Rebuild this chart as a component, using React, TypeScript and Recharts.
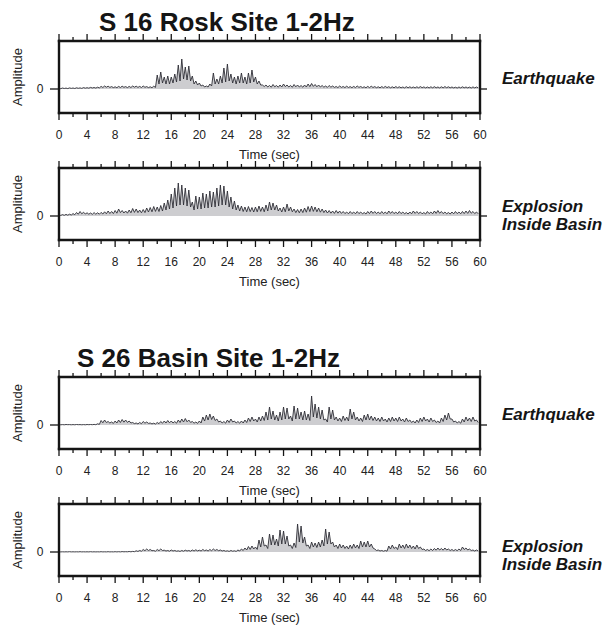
import React from 'react';
import { ComposedChart, Area, Line, XAxis, YAxis } from 'recharts';

// Seismogram envelopes, 1-2 Hz band, sampled every 0.5 s.
// "peaks" are the crest samples (t = 0, 0.5, ...), "troughs" the samples
// a quarter second later (t = 0.25, 0.75, ...). Amplitude in relative units.
const SAMPLE_STEP = 0.5;

const s16QuakePeaks = [
  0.8, 1.0, 0.9, 1.1, 1.0, 1.2, 1.1, 1.4, 1.3, 1.6, 1.5, 1.8,
  2.6, 3.0, 2.8, 2.4, 2.2, 2.6, 2.8, 2.4, 2.6, 3.0, 2.8, 2.6, 3.0, 2.4, 2.2, 2.8,
  14, 17, 12, 13, 12, 15, 24, 30, 22, 23, 13, 8, 6, 4, 3, 5, 16, 10, 13, 21, 25, 15, 12, 13, 16, 12, 16, 19, 12, 8, 4,
  4, 3.5, 4.5, 3.5, 4, 5, 4, 3.5, 4.5, 4, 3.5, 4, 5, 5.5, 4.5, 4, 3.5, 3, 3.5,
  3, 2.5, 3, 2.5, 2.8, 2.4, 2.6, 3, 2.5, 2.2, 2.6, 2.8, 2.4, 2.2, 2.4, 2.6, 2.3, 2.2, 2.4, 2.2,
  2.0, 2.3, 2.2, 2.0, 2.2, 2.4, 2.1, 2.0, 2.2, 2.3, 2.0, 2.2, 2.4, 2.2, 2.0, 1.8, 2.0, 2.2, 2.0, 1.9,
  2.1, 2.0,
];
const s16QuakeTroughs = [
  0.3, 0.5, 0.4, 0.6, 0.5, 0.7, 0.6, 0.8, 0.8, 1.0, 0.9, 1.1,
  1.5, 1.8, 1.6, 1.4, 1.3, 1.5, 1.7, 1.4, 1.5, 1.8, 1.6, 1.5, 1.7, 1.4, 1.3, 1.6,
  5, 6, 5, 5, 6, 7, 8, 10, 9, 8, 5, 4, 3, 2, 2, 3, 5, 5, 6, 7, 8, 6, 5, 6, 6, 5, 6, 7, 5, 4, 2.5,
  2, 1.8, 2.2, 1.8, 2, 2.4, 2, 1.8, 2.2, 2, 1.8, 2, 2.4, 2.6, 2.2, 2, 1.8, 1.6, 1.8,
  1.6, 1.4, 1.6, 1.4, 1.5, 1.3, 1.4, 1.6, 1.4, 1.2, 1.4, 1.5, 1.3, 1.2, 1.3, 1.4, 1.2, 1.2, 1.3, 1.2,
  1.1, 1.2, 1.2, 1.1, 1.2, 1.3, 1.1, 1.1, 1.2, 1.2, 1.1, 1.2, 1.3, 1.2, 1.1, 1.0, 1.1, 1.2, 1.1, 1.0,
  1.1, 1.1,
];

const s16BlastPeaks = [
  1.2, 1.4, 1.6, 1.8, 2.4, 3.5, 4.5, 3.8, 3.2, 3.0, 3.4, 3.2,
  3.6, 4.2, 5.0, 4.5, 5.5, 7.0, 5.5, 5.0, 6.0, 7.5, 7.0, 6.0,
  6.5, 8.0, 8.5, 9.5, 9.0, 10.5, 13, 16, 22, 28, 33, 31,
  28, 26, 14, 20, 19, 23, 22, 25, 24, 28, 31, 30,
  25, 19, 15, 11, 10, 9, 9.5, 8.5, 9, 10, 9, 11,
  14, 13, 11, 8, 9, 12, 9, 7, 6.5, 7, 8, 9.5,
  10, 9, 8, 7, 6, 5.5, 5, 5.5, 5, 4.5, 4, 4.5,
  4, 4.5, 4, 3.5, 4.5, 5, 4.5, 4, 4.5, 4, 5, 4.5,
  4, 4.5, 4, 3.5, 4, 5, 4.5, 4, 3.5, 4.5, 4, 5,
  5.5, 4.5, 4, 3.5, 4, 4.5, 4, 4.5, 5, 5.5, 4.5, 4,
];
const s16BlastTroughs = [
  0.6, 0.7, 0.8, 1.0, 1.3, 1.8, 2.2, 2.0, 1.8, 1.7, 1.8, 1.8,
  2.0, 2.2, 2.5, 2.4, 2.8, 3.4, 3.0, 2.8, 3.2, 3.6, 3.4, 3.2,
  3.4, 4.0, 4.2, 4.6, 4.5, 5.0, 6, 7, 8, 10, 11, 11,
  10, 9, 6, 7, 7, 8, 8, 9, 9, 10, 11, 11,
  9, 7, 6, 5, 4.5, 4.2, 4.4, 4.0, 4.2, 4.6, 4.2, 5,
  6, 6, 5, 4, 4.2, 5, 4.2, 3.4, 3.2, 3.4, 3.8, 4.4,
  4.6, 4.2, 3.8, 3.4, 3, 2.8, 2.6, 2.8, 2.6, 2.4, 2.2, 2.4,
  2.2, 2.4, 2.2, 2, 2.4, 2.6, 2.4, 2.2, 2.4, 2.2, 2.6, 2.4,
  2.2, 2.4, 2.2, 2, 2.2, 2.6, 2.4, 2.2, 2, 2.4, 2.2, 2.6,
  2.8, 2.4, 2.2, 2, 2.2, 2.4, 2.2, 2.4, 2.6, 2.8, 2.4, 2.2,
];

const s26QuakePeaks = [
  0.4, 0.4, 0.5, 0.4, 0.4, 0.5, 0.4, 0.4, 0.5, 0.5, 0.6, 1.2,
  4.5, 5, 3.5, 3, 4, 5, 5.5, 5, 4, 2.5, 2, 2.5,
  3.5, 3, 2, 1.8, 2.5, 3.5, 4, 4.5, 4, 3.5, 5, 6,
  6.5, 5, 3.5, 3, 4, 8, 10, 11, 9, 6, 4, 3.5,
  5, 6, 4, 3.5, 4, 5, 7, 8, 6, 8, 9, 13,
  18, 14, 10, 13, 18, 17, 9, 19, 17, 13, 14, 11,
  29, 21, 18, 15, 6, 18, 15, 8, 7, 9, 8, 16,
  13, 8, 7, 10, 11, 9, 8, 7, 8, 6, 7, 8,
  7, 8, 6, 7, 5, 4, 5, 7, 8, 6, 7, 5,
  4, 7, 10, 12, 6, 4, 3.5, 6, 8, 7, 8, 5,
];
const s26QuakeTroughs = [
  0.2, 0.2, 0.3, 0.2, 0.2, 0.3, 0.2, 0.2, 0.3, 0.3, 0.3, 0.6,
  2.2, 2.5, 2, 1.6, 2, 2.5, 2.8, 2.6, 2, 1.4, 1.1, 1.3,
  1.8, 1.6, 1.1, 1, 1.3, 1.8, 2, 2.2, 2, 1.8, 2.5, 3,
  3.2, 2.6, 1.8, 1.6, 2, 4, 5, 5.5, 4.5, 3, 2, 1.8,
  2.5, 3, 2, 1.8, 2, 2.5, 3.5, 4, 3, 4, 4.5, 5,
  6, 5, 4, 5, 6, 6, 4, 6, 6, 5, 5, 4.5,
  8, 7, 6, 5, 3, 6, 5, 4, 3.5, 4.5, 4, 6,
  5, 4, 3.5, 5, 5, 4.5, 4, 3.5, 4, 3, 3.5, 4,
  3.5, 4, 3, 3.5, 2.5, 2, 2.5, 3.5, 4, 3, 3.5, 2.5,
  2, 3.5, 5, 6, 3, 2, 1.8, 3, 4, 3.5, 4, 2.5,
];

const s26BlastPeaks = [
  0.2, 0.2, 0.2, 0.3, 0.2, 0.2, 0.3, 0.2, 0.2, 0.3, 0.2, 0.2,
  0.3, 0.2, 0.3, 0.2, 0.3, 0.3, 0.4, 0.3, 0.5, 0.6, 1.2, 1.5,
  2.5, 3, 2.5, 1.5, 2.5, 3, 1.8, 1.5, 2, 1.5, 1.2, 1.5,
  1.8, 1.5, 2, 2.2, 1.8, 2.5, 2, 2.5, 3, 2.5, 2, 1.5,
  1.2, 1.5, 1.2, 2, 3, 4, 5.5, 6, 5, 12, 15, 7,
  18, 17, 13, 22, 21, 16, 7, 9, 28, 26, 15, 7,
  10, 9, 10, 12, 23, 20, 10, 7, 8, 7, 6, 7,
  8, 7, 11, 10, 11, 8, 3, 2, 1.5, 1.5, 6, 7,
  5, 8, 7, 8, 7, 6, 7, 5, 3, 2.5, 3, 3.5,
  4, 3.5, 4, 3, 2.5, 2.5, 3, 5, 4, 3, 2, 2,
];
const s26BlastTroughs = [
  0.1, 0.1, 0.1, 0.1, 0.1, 0.1, 0.1, 0.1, 0.1, 0.1, 0.1, 0.1,
  0.1, 0.1, 0.1, 0.1, 0.1, 0.1, 0.2, 0.2, 0.2, 0.3, 0.6, 0.8,
  1.3, 1.5, 1.3, 0.8, 1.3, 1.5, 1, 0.8, 1, 0.8, 0.6, 0.8,
  1, 0.8, 1, 1.1, 1, 1.3, 1, 1.3, 1.5, 1.3, 1, 0.8,
  0.6, 0.8, 0.6, 1, 1.5, 2, 2.6, 3, 2.6, 5, 6, 3.5,
  7, 7, 6, 8, 8, 6, 3.5, 4.5, 10, 9, 6, 3.5,
  5, 4.5, 5, 6, 8, 8, 5, 3.5, 4, 3.5, 3, 3.5,
  4, 3.5, 5, 5, 5, 4, 1.5, 1, 0.8, 0.8, 3, 3.5,
  2.5, 4, 3.5, 4, 3.5, 3, 3.5, 2.5, 1.5, 1.3, 1.5, 1.8,
  2, 1.8, 2, 1.5, 1.3, 1.3, 1.5, 2.5, 2, 1.5, 1, 1,
];

// Time axis (seconds)
const TIME_DOMAIN = [0, 60];
const MAJOR_TICKS = [0, 4, 8, 12, 16, 20, 24, 28, 32, 36, 40, 44, 48, 52, 56, 60];
const MINOR_TICKS = [2, 6, 10, 14, 18, 22, 26, 30, 34, 38, 42, 46, 50, 54, 58];
const AMP_DOMAIN = [-24, 48];
const AMP_TICKS = [0];

const TITLES = ['S 16 Rosk Site 1-2Hz', 'S 26 Basin Site 1-2Hz'];
const TIME_LABEL = 'Time (sec)';
const AMP_LABEL = 'Amplitude';

const FONT = '"Liberation Sans", Arial, Helvetica, sans-serif';
const INK = '#151515';
const TRACE = '#2e2e36';

function buildTrace(peaks: number[], troughs: number[]) {
  const rows: { t: number; a: number }[] = [];
  peaks.forEach((p, i) => {
    rows.push({ t: i * SAMPLE_STEP, a: p });
    rows.push({ t: i * SAMPLE_STEP + SAMPLE_STEP / 2, a: troughs[i] });
  });
  return rows;
}

const PLOT_LEFT = 59;
const PLOT_W = 421;
const PLOT_H = 72;
const M_TOP = 12;
const M_BOTTOM = 34;
const CHART_W = 606;
const AXIS_SIZE = 1;

const panels = [
  { top: 41, data: buildTrace(s16QuakePeaks, s16QuakeTroughs), label: ['Earthquake'], labelY: [83.5] },
  { top: 168, data: buildTrace(s16BlastPeaks, s16BlastTroughs), label: ['Explosion', 'Inside Basin'], labelY: [211.5, 230] },
  { top: 377, data: buildTrace(s26QuakePeaks, s26QuakeTroughs), label: ['Earthquake'], labelY: [419.5] },
  { top: 504, data: buildTrace(s26BlastPeaks, s26BlastTroughs), label: ['Explosion', 'Inside Basin'], labelY: [551.5, 570] },
];

const frame = { stroke: INK, strokeWidth: 2.4, strokeLinecap: 'square' as const };

const BottomTick = (props: any) => {
  const { x, y, payload } = props;
  const major = MAJOR_TICKS.includes(payload.value);
  return (
    <g>
      <line x1={x} x2={x} y1={y} y2={y + (major ? 7 : 4)} stroke={INK} strokeWidth={1.3} />
      {major && (
        <text x={x} y={y + 26} textAnchor="middle" fontFamily={FONT} fontSize={12} fill="#222">
          {payload.value}
        </text>
      )}
    </g>
  );
};

const TopTick = (props: any) => {
  const { x, y, payload } = props;
  const major = MAJOR_TICKS.includes(payload.value);
  return <line x1={x} x2={x} y1={y} y2={y - (major ? 7 : 4)} stroke={INK} strokeWidth={1.3} />;
};

const LeftTick = (props: any) => {
  const { x, y, payload } = props;
  return (
    <g>
      <line x1={x} x2={x - 9} y1={y} y2={y} stroke={INK} strokeWidth={1.3} />
      <text x={x - 19} y={y + 4.3} textAnchor="middle" fontFamily={FONT} fontSize={12} fill="#222">
        {payload.value}
      </text>
    </g>
  );
};

const RightTick = (props: any) => {
  const { x, y } = props;
  return <line x1={x} x2={x + 7} y1={y} y2={y} stroke={INK} strokeWidth={1.3} />;
};

const allTicks = [...MAJOR_TICKS, ...MINOR_TICKS].sort((a, b) => a - b);

function Panel({ top, data }: { top: number; data: { t: number; a: number }[] }) {
  return (
    <div style={{ position: 'absolute', left: 0, top: top - M_TOP }}>
      <ComposedChart
        width={CHART_W}
        height={M_TOP + PLOT_H + M_BOTTOM}
        data={data}
        margin={{
          top: M_TOP - AXIS_SIZE,
          right: CHART_W - PLOT_LEFT - PLOT_W - AXIS_SIZE,
          bottom: M_BOTTOM - AXIS_SIZE,
          left: PLOT_LEFT - AXIS_SIZE,
        }}
      >
        <XAxis
          xAxisId="b"
          type="number"
          dataKey="t"
          domain={TIME_DOMAIN}
          ticks={allTicks}
          interval={0}
          orientation="bottom"
          height={AXIS_SIZE}
          tickSize={0}
          tickMargin={0}
          tickLine={false}
          axisLine={frame}
          tick={<BottomTick />}
          allowDataOverflow
        />
        <XAxis
          xAxisId="t"
          type="number"
          dataKey="t"
          domain={TIME_DOMAIN}
          ticks={allTicks}
          interval={0}
          orientation="top"
          height={AXIS_SIZE}
          tickSize={0}
          tickMargin={0}
          tickLine={false}
          axisLine={frame}
          tick={<TopTick />}
          allowDataOverflow
        />
        <YAxis
          yAxisId="l"
          type="number"
          domain={AMP_DOMAIN}
          ticks={AMP_TICKS}
          interval={0}
          width={AXIS_SIZE}
          tickSize={0}
          tickMargin={0}
          tickLine={false}
          axisLine={frame}
          tick={<LeftTick />}
          allowDataOverflow
        />
        <YAxis
          yAxisId="r"
          orientation="right"
          type="number"
          domain={AMP_DOMAIN}
          ticks={AMP_TICKS}
          interval={0}
          width={AXIS_SIZE}
          tickSize={0}
          tickMargin={0}
          tickLine={false}
          axisLine={frame}
          tick={<RightTick />}
          allowDataOverflow
        />
        <Area
          xAxisId="b"
          yAxisId="l"
          type="linear"
          dataKey="a"
          stroke="none"
          fill="#5a5a62"
          fillOpacity={0.3}
          baseValue={0}
          isAnimationActive={false}
        />
        <Line
          xAxisId="b"
          yAxisId="l"
          type="linear"
          dataKey="a"
          stroke={TRACE}
          strokeWidth={0.9}
          dot={false}
          isAnimationActive={false}
        />
      </ComposedChart>
    </div>
  );
}

export default function App() {
  const cx = PLOT_LEFT + PLOT_W / 2;
  return (
    <div style={{ position: 'absolute', left: 0, top: 0, width: 606, height: 625, background: '#fff', overflow: 'hidden' }}>
      {panels.map((p, i) => (
        <Panel key={i} top={p.top} data={p.data} />
      ))}
      <svg
        width={606}
        height={625}
        style={{ position: 'absolute', left: 0, top: 0, pointerEvents: 'none' }}
      >
        <text x={99} y={31} fontFamily={FONT} fontWeight="bold" fontSize={26} fill={INK}>
          {TITLES[0]}
        </text>
        <text x={77} y={367} fontFamily={FONT} fontWeight="bold" fontSize={26} fill={INK}>
          {TITLES[1]}
        </text>
        {panels.map((p, i) => {
          const midY = p.top + PLOT_H / 2;
          const timeY = p.top + PLOT_H + 46;
          return (
            <g key={i}>
              <text
                x={22}
                y={midY}
                transform={`rotate(-90 22 ${midY})`}
                textAnchor="middle"
                fontFamily={FONT}
                fontSize={13}
                fill="#222"
              >
                {AMP_LABEL}
              </text>
              <text x={cx} y={timeY} textAnchor="middle" fontFamily={FONT} fontSize={13} fill="#222">
                {TIME_LABEL}
              </text>
              {p.label.map((l, j) => (
                <text
                  key={j}
                  x={502}
                  y={p.labelY[j]}
                  fontFamily={FONT}
                  fontWeight="bold"
                  fontStyle="italic"
                  fontSize={17}
                  fill={INK}
                >
                  {l}
                </text>
              ))}
            </g>
          );
        })}
      </svg>
    </div>
  );
}
